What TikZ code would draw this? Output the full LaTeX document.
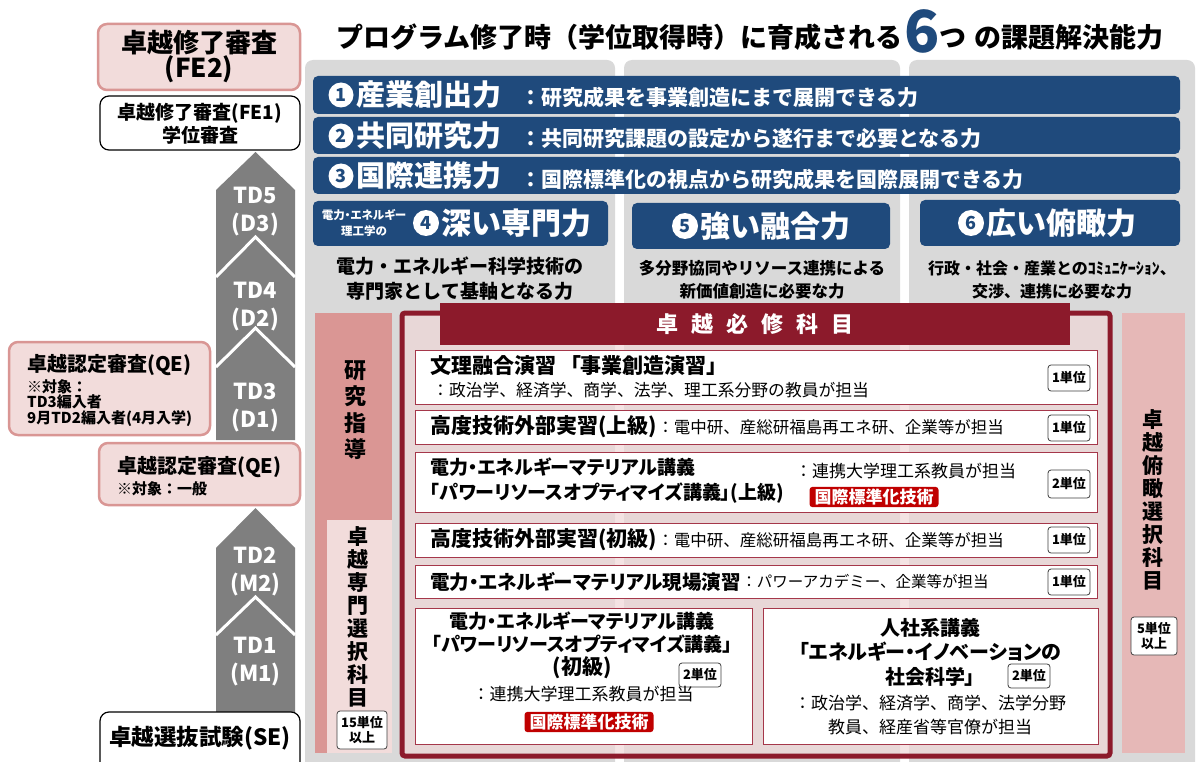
\documentclass[tikz,border=0pt]{standalone}
\usepackage{fontspec}
\setmainfont{Noto Sans CJK JP}
\newcommand\fsz[2]{\fontsize{#1}{#2}\selectfont}
\newcommand\palt{\addfontfeatures{RawFeature=+palt}}
\definecolor{blueC}{HTML}{1F4A7C}
\definecolor{panelgray}{HTML}{D9D9D9}
\definecolor{arrowgray}{HTML}{7F7F7F}
\definecolor{pinkF}{HTML}{F2DCDB}
\definecolor{pinkB}{HTML}{D99694}
\definecolor{roseC}{HTML}{DA9694}
\definecolor{rightrose}{HTML}{E6B8B7}
\definecolor{darkred}{HTML}{8C1A2B}
\definecolor{courseB}{HTML}{A5374A}
\definecolor{tagred}{HTML}{C00000}
\definecolor{boxpink}{RGB}{240,215,215}
\tikzset{
  pinkbox/.style={rounded corners=9pt, fill=pinkF, draw=pinkB, line width=2.5pt},
  whitebox/.style={rounded corners=9pt, fill=white, draw=black, line width=1.2pt},
  bluebar/.style={fill=blueC, rounded corners=5pt},
  course/.style={fill=white, draw=courseB, line width=1pt},
  unitbox/.style={rounded corners=3pt, draw=black!75, fill=white, line width=0.8pt, inner sep=2pt, font=\bfseries\fsz{13}{15}, align=center},
  tagbox/.style={fill=tagred, rounded corners=3pt, text=white, inner xsep=5pt, inner ysep=2pt, font=\bfseries\fsz{17}{19}},
  numcirc/.style={circle, fill=white, inner sep=0pt, minimum size=#1, text=blueC, font=\bfseries\fsz{18}{18}},
  wtext/.style={text=white, inner sep=0pt},
  txt/.style={inner sep=0pt},
}
\begin{document}
\begin{tikzpicture}[x=1pt,y=-1pt]
\useasboundingbox (0,0) rectangle (1197,762);
\clip (0,0) rectangle (1197,762);
\fill[white] (0,0) rectangle (1197,762);
% gray panels
\fill[panelgray, rounded corners=8pt] (305,60) rectangle (615,790);
\fill[panelgray, rounded corners=8pt] (624,60) rectangle (900,790);
\fill[panelgray, rounded corners=8pt] (909,60) rectangle (1195,790);

% title
\node[txt, anchor=east, font=\bfseries\fsz{27}{30}] (t1) at (903,37) {プログラム修了時（学位取得時）に育成される};
\node[txt, anchor=west, text=blueC, font=\bfseries\fsz{58}{58}] (t6) at (904,31) {6};
\node[txt, anchor=west, font=\bfseries\fsz{27}{30}] (t2) at (t6.east |- 0,38) {つ};
\node[txt, anchor=west, font=\bfseries\fsz{27}{30}] (t3) at (974,37) {の課題解決能力};

% blue bars
\fill[bluebar] (313,76) rectangle (1180,114);
\fill[bluebar] (313,117) rectangle (1180,154);
\fill[bluebar] (313,157) rectangle (1180,194);
\node[numcirc=25pt] (n1) at (341,95) {1};
\node[numcirc=25pt] (n2) at (341,136) {2};
\node[numcirc=25pt] (n3) at (341,176) {3};
\node[wtext, anchor=west, font=\bfseries\fsz{29}{30}] (b1) at (356,95) {産業創出力};
\node[wtext, anchor=west, font=\bfseries\fsz{29}{30}] (b2) at (356,136) {共同研究力};
\node[wtext, anchor=west, font=\bfseries\fsz{29}{30}] (b3) at (356,176) {国際連携力};
\node[wtext, anchor=west, font=\bfseries\fsz{21}{22}] (d1) at (520,98) {：研究成果を事業創造にまで展開できる力};
\node[wtext, anchor=west, font=\bfseries\fsz{21}{22}] (d2) at (520,139) {：共同研究課題の設定から遂行まで必要となる力};
\node[wtext, anchor=west, font=\bfseries\fsz{21}{22}] (d3) at (520,179) {：国際標準化の視点から研究成果を国際展開できる力};

% blue boxes row 2
\fill[bluebar] (313,201) rectangle (608,246);
\fill[bluebar] (632,203) rectangle (890,249);
\fill[bluebar] (920,200) rectangle (1180,246);
\node[wtext, align=center, font=\bfseries\fsz{11.5}{16}\palt] (s4) at (364,223) {電力・エネルギー\\理工学の};
\node[numcirc=26pt] (n4) at (426,223) {4};
\node[wtext, anchor=west, font=\bfseries\fsz{30}{32}] (b4) at (441,223) {深い専門力};
\node[numcirc=26pt] (n5) at (685,226) {5};
\node[wtext, anchor=west, font=\bfseries\fsz{30}{32}] (b5) at (700,226) {強い融合力};
\node[numcirc=26pt] (n6) at (971,223) {6};
\node[wtext, anchor=west, font=\bfseries\fsz{30}{32}] (b6) at (986,223) {広い俯瞰力};

\node[txt, align=center, font=\bfseries\fsz{19}{25}] (e4) at (460,279) {電力・エネルギー科学技術の\\専門家として基軸となる力};
\node[txt, align=center, font=\bfseries\fsz{16.5}{23}] (e5) at (762,280) {多分野協同やリソース連携による\\新価値創造に必要な力};
\node[txt, align=center, font=\bfseries\fsz{16}{23}] (e6) at (1052,280) {行政・社会・産業とのｺﾐｭﾆｹｰｼｮﾝ、\\交渉、連携に必要な力};

% left column boxes
\draw[pinkbox] (98,24) rectangle (300,90);
\node[txt, align=center, font=\bfseries\fsz{26}{25}] (fe2) at (199,57) {卓越修了審査\\(FE2)};
\draw[whitebox] (100,96) rectangle (300,150);
\node[txt, align=center, font=\bfseries\fsz{19}{23}] (fe1) at (200,124) {卓越修了審査(FE1)\\学位審査};

% gray arrows
\fill[arrowgray] (216,190) -- (255.5,152) -- (295,190) -- (295,440) -- (216,440) -- cycle;
\fill[arrowgray] (216,548) -- (255.5,508) -- (295,548) -- (295,712) -- (216,712) -- cycle;
\draw[white, line width=3pt] (216,277) -- (255.5,237) -- (295,277);
\draw[white, line width=3pt] (216,367) -- (255.5,328) -- (295,367);
\draw[white, line width=3pt] (216,635) -- (255.5,597) -- (295,635);
\node[wtext, align=center, font=\bfseries\fsz{22}{28}] (td5) at (255.5,212) {TD5\\(D3)};
\node[wtext, align=center, font=\bfseries\fsz{22}{28}] (td4) at (255.5,307) {TD4\\(D2)};
\node[wtext, align=center, font=\bfseries\fsz{22}{28}] (td3) at (255.5,408) {TD3\\(D1)};
\node[wtext, align=center, font=\bfseries\fsz{22}{28}] (td2) at (255.5,572) {TD2\\(M2)};
\node[wtext, align=center, font=\bfseries\fsz{22}{28}] (td1) at (255.5,662) {TD1\\(M1)};

\draw[pinkbox] (9,342) rectangle (210,435);
\node[txt, anchor=west, font=\bfseries\fsz{20}{22}] (qe1) at (27,365) {卓越認定審査(QE)};
\node[txt, anchor=north west, align=left, font=\bfseries\fsz{15}{15.5}] (qe1s) at (27,379) {※対象：\\TD3編入者\\9月TD2編入者(4月入学)};
\draw[pinkbox] (99,443) rectangle (300,505);
\node[txt, anchor=west, font=\bfseries\fsz{20}{22}] (qe2) at (117,467) {卓越認定審査(QE)};
\node[txt, anchor=west, font=\bfseries\fsz{15}{16}] (qe2s) at (117,489) {※対象：一般};
\draw[whitebox] (100,712) rectangle (300,775);
\node[txt, font=\bfseries\fsz{22.5}{24}] (se) at (200,738) {卓越選抜試験(SE)};

% research guidance column
\fill[roseC] (315,313) rectangle (392,753);
\fill[pinkF] (327,520) rectangle (392,753);
\node[txt, align=center, font=\bfseries\fsz{22}{26.5}] (kk) at (355,410) {研\\究\\指\\導};
\node[txt, align=center, font=\bfseries\fsz{21}{23}] (sm) at (358,617) {卓\\越\\専\\門\\選\\択\\科\\目};
\node[unitbox, minimum width=50pt, minimum height=38pt] (u15) at (362,730) {15単位\\以上};

% main red box
\draw[darkred, line width=5pt, fill=boxpink, fill opacity=0.68, rounded corners=3pt] (402,313) rectangle (1110,756);
\fill[darkred] (440,303) rectangle (1070,345);
\node[wtext, font=\bfseries\fsz{22}{24}] (hd) at (755,324) {卓\hspace{13pt}越\hspace{13pt}必\hspace{13pt}修\hspace{13pt}科\hspace{13pt}目};

% course boxes
\draw[course] (415,350) rectangle (1097,404);
\draw[course] (415,410) rectangle (1097,444);
\draw[course] (415,452) rectangle (1097,512);
\draw[course] (415,523) rectangle (1097,557);
\draw[course] (415,565) rectangle (1097,598);
\draw[course] (415,608) rectangle (752,744);
\draw[course] (763,608) rectangle (1098,744);

\node[txt, anchor=west, font=\bfseries\fsz{21}{24}\palt] (c1h) at (430,366) {文理融合演習\hspace{14pt}「事業創造演習」};
\node[txt, anchor=west, font=\fsz{16.8}{20}] (c1s) at (432,390) {：政治学、経済学、商学、法学、理工系分野の教員が担当};
\node[unitbox, minimum width=42pt, minimum height=26pt] (u1) at (1069,378) {1単位};

\node[txt, anchor=west, font=\bfseries\fsz{21}{24}\palt] (c2h) at (430,427) {高度技術外部実習(上級)};
\node[txt, anchor=west, font=\fsz{16.5}{20}] (c2s) at (c2h.east) {：電中研、産総研福島再エネ研、企業等が担当};
\node[unitbox, minimum width=42pt, minimum height=26pt] (u2) at (1069,428) {1単位};

\node[txt, anchor=west, align=left, font=\bfseries\fsz{19}{25}\palt] (c3h) at (430,481) {電力・エネルギーマテリアル講義\\「パワーリソースオプティマイズ講義」(上級)};
\node[txt, anchor=west, font=\fsz{17}{20}] (c3s) at (795,471) {：連携大学理工系教員が担当};
\node[tagbox] (tag1) at (874,497) {国際標準化技術};
\node[unitbox, minimum width=42pt, minimum height=28pt] (u3) at (1069,484) {2単位};

\node[txt, anchor=west, font=\bfseries\fsz{21}{24}\palt] (c4h) at (430,540) {高度技術外部実習(初級)};
\node[txt, anchor=west, font=\fsz{16.5}{20}] (c4s) at (c4h.east) {：電中研、産総研福島再エネ研、企業等が担当};
\node[unitbox, minimum width=42pt, minimum height=26pt] (u4) at (1069,540) {1単位};

\node[txt, anchor=west, font=\bfseries\fsz{19.5}{24}\palt] (c5h) at (430,582) {電力・エネルギーマテリアル現場演習};
\node[txt, anchor=west, font=\fsz{15.5}{20}] (c5s) at (c5h.east) {：パワーアカデミー、企業等が担当};
\node[unitbox, minimum width=42pt, minimum height=26pt] (u5) at (1069,582) {1単位};

\node[txt, align=center, font=\bfseries\fsz{19}{23}\palt] (c6h) at (582,645) {電力・エネルギーマテリアル講義\\「パワーリソースオプティマイズ講義」\\{\fsz{21}{23}(初級)}};
\node[unitbox, minimum width=42pt, minimum height=24pt] (u6) at (700,675) {2単位};
\node[txt, font=\fsz{17}{20}] (c6s) at (583,694) {：連携大学理工系教員が担当};
\node[tagbox] (tag2) at (589,722) {国際標準化技術};

\node[txt, align=center, font=\bfseries\fsz{20}{24.5}\palt] (c7h) at (930,652) {人社系講義\\「エネルギー・イノベーションの\\社会科学」};
\node[unitbox, minimum width=42pt, minimum height=24pt] (u7) at (1029,676) {2単位};
\node[txt, align=center, font=\fsz{17}{24}] (c7s) at (930,715) {：政治学、経済学、商学、法学分野\\教員、経産省等官僚が担当};

% right column
\fill[rightrose] (1122,313) rectangle (1185,753);
\node[txt, align=center, font=\bfseries\fsz{21}{23}] (fk) at (1153,500) {卓\\越\\俯\\瞰\\選\\択\\科\\目};
\node[unitbox, minimum width=46pt, minimum height=38pt] (u8) at (1154,636) {5単位\\以上};
\end{tikzpicture}
\end{document}
